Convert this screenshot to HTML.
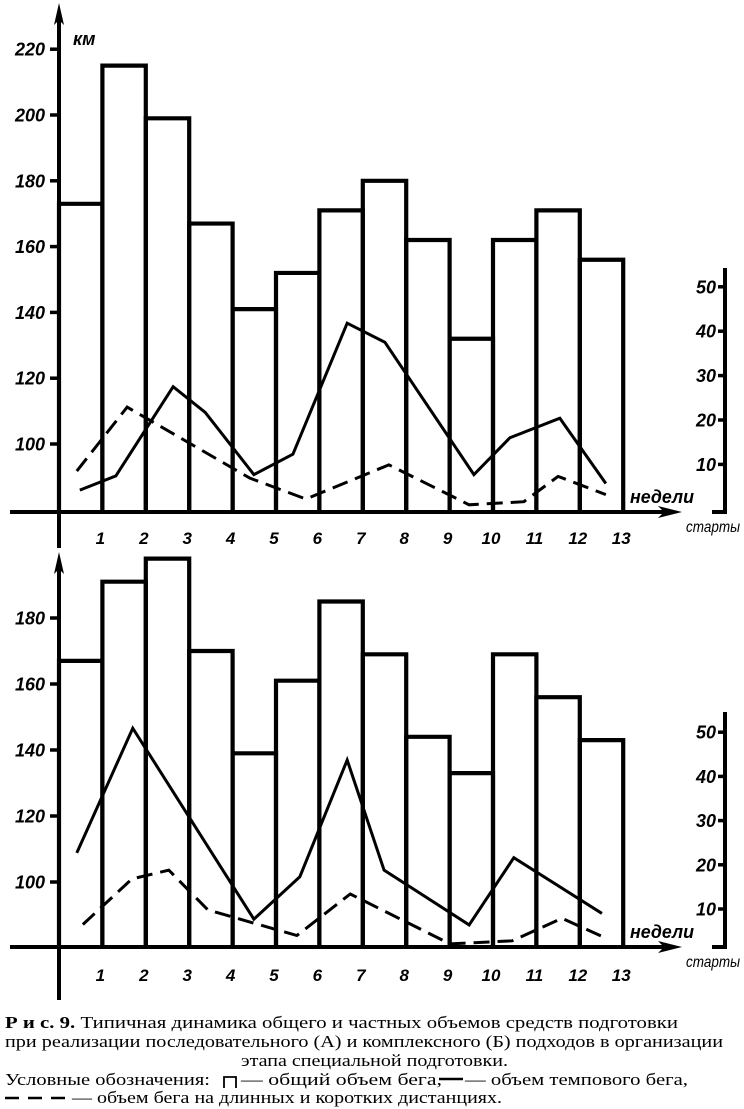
<!DOCTYPE html>
<html><head><meta charset="utf-8"><style>
html,body{margin:0;padding:0;background:#fff}
svg{display:block}
.tk{font-family:"Liberation Sans",sans-serif;font-weight:bold;font-style:italic;font-size:18px}
.wk{font-family:"Liberation Sans",sans-serif;font-weight:bold;font-style:italic;font-size:17px}
.cap{font-family:"Liberation Serif","Noto Serif CJK SC",serif;font-size:17px}
</style></head><body>
<svg id="fig" width="744" height="1109" viewBox="0 0 744 1109" xmlns="http://www.w3.org/2000/svg">
<g id="panelA"></g>
<g id="panelB"></g>
<g>
<text class="cap" x="5" y="1028" textLength="673" lengthAdjust="spacingAndGlyphs"><tspan font-weight="bold">Р и с.   9.</tspan>   Типичная динамика общего и частных объемов средств подготовки</text>
<text class="cap" x="5" y="1047" textLength="718" lengthAdjust="spacingAndGlyphs">при реализации последовательного (А) и комплексного (Б) подходов в организации</text>
<text class="cap" x="241" y="1066" textLength="267" lengthAdjust="spacingAndGlyphs">этапа специальной подготовки.</text>
<text class="cap" x="5" y="1085" textLength="205" lengthAdjust="spacingAndGlyphs">Условные обозначения:</text>
<path d="M224 1088 V1077 H236 V1088" fill="none" stroke="#000" stroke-width="1.8"/>
<text class="cap" x="241" y="1085" textLength="201" lengthAdjust="spacingAndGlyphs">— общий объем бега,</text>
<line x1="439" y1="1079" x2="463" y2="1079" stroke="#000" stroke-width="2.5"/>
<text class="cap" x="465" y="1085" textLength="223" lengthAdjust="spacingAndGlyphs">— объем темпового бега,</text>
<line x1="5" y1="1098" x2="70" y2="1098" stroke="#000" stroke-width="2.5" stroke-dasharray="14 9"/>
<text class="cap" x="72" y="1103" textLength="430" lengthAdjust="spacingAndGlyphs">— объем бега на длинных и коротких дистанциях.</text>
</g>
</svg>
<script>
// ---- data: chart A (sequential) ----
const weeks = [1,2,3,4,5,6,7,8,9,10,11,12,13];
const leftTicksA = [220,200,180,160,140,120,100];
const rightTicks = [50,40,30,20,10];
const barsA = [173,215,199,167,141,152,171,180,162,132,162,171,156];
const solidWeeksA = [0.48,1.31,2.63,3.37,4.49,5.39,6.64,7.51,9.56,10.39,11.54,12.6];
const solidValsA = [4.2,7.4,27.5,21.7,7.7,12.3,41.8,37.5,7.7,16,20.4,5.7];
const dashWeeksA = [0.41,1.57,4.4,5.69,7.6,9.45,10.71,11.5,12.6];
const dashValsA = [8.5,22.9,6.9,2.2,9.9,0.9,1.6,7.3,3.2];
// ---- data: chart B (complex) ----
const leftTicksB = [180,160,140,120,100];
const barsB = [167,191,198,170,139,161,185,169,144,133,169,156,143];
const solidWeeksB = [0.41,1.7,4.49,5.55,6.64,7.49,9.45,10.48,12.51];
const solidValsB = [22.7,50.9,7.7,17.3,43.7,18.8,6.4,21.6,9];
const dashWeeksB = [0.55,1.68,2.53,3.43,5.48,6.71,9.01,10.44,11.59,12.58];
const dashValsB = [6.5,16.8,18.8,9.8,4,13.4,2.1,2.8,7.9,3.5];

const NS = "http://www.w3.org/2000/svg";
function mk(parent, tag, attrs, text){
  const e = document.createElementNS(NS, tag);
  for (const k in attrs) e.setAttribute(k, attrs[k]);
  if (text !== undefined) e.textContent = text;
  parent.appendChild(e);
  return e;
}
const xW = w => 59 + w*43.4;

function drawPanel(g, cfg){
  const yL = v => cfg.y100 - (v-100)*cfg.kL;
  const yR = s => cfg.r0 - s*cfg.kR;
  // bars
  cfg.bars.forEach((v,i)=>{
    const r = mk(g,'path',{d:`M${xW(i)} ${cfg.axisY} V${yL(v)} H${xW(i+1)} V${cfg.axisY}`,fill:'none',stroke:'#000','stroke-width':4.2,'stroke-linejoin':'miter'});
    
    
  });
  // lines
  const sp = cfg.solidW.map((w,i)=>xW(w)+','+yR(cfg.solidV[i])).join(' ');
  const s = mk(g,'polyline',{points:sp,fill:'none',stroke:'#000','stroke-width':3,'stroke-linejoin':'miter'});
  
  
  const dp = cfg.dashW.map((w,i)=>xW(w)+','+yR(cfg.dashV[i])).join(' ');
  const d = mk(g,'polyline',{points:dp,fill:'none',stroke:'#000','stroke-width':3,'stroke-dasharray':'16 8'});
  
  
  // axes
  const ya = mk(g,'line',{x1:59,y1:cfg.yTop+14,x2:59,y2:cfg.yBot,stroke:'#000','stroke-width':4});
  
  
  const yh = mk(g,'path',{d:`M59 ${cfg.yTop} L54 ${cfg.yTop+22} L59 ${cfg.yTop+17} L64 ${cfg.yTop+22} Z`,fill:'#000'});
  
  
  const xa = mk(g,'line',{x1:10,y1:cfg.axisY,x2:668,y2:cfg.axisY,stroke:'#000','stroke-width':4});
  
  
  const xh = mk(g,'path',{d:`M682 ${cfg.axisY} L658 ${cfg.axisY-6} L664 ${cfg.axisY} L658 ${cfg.axisY+6} Z`,fill:'#000'});
  
  
  // left ticks
  cfg.leftTicks.forEach(t=>{
    const y = yL(t);
    const tl = mk(g,'line',{x1:50,y1:y,x2:59,y2:y,stroke:'#000','stroke-width':3.5});
    
    
    const tx = mk(g,'text',{class:'tk',x:45,y:y+6.5,'text-anchor':'end'}, t);
    
    
  });
  // week labels
  weeks.forEach(w=>{
    const tx = mk(g,'text',{class:'wk',x:xW(w)-2,y:cfg.wkY,'text-anchor':'middle'}, w);
    
    
  });
  // right axis
  const ra = mk(g,'path',{d:`M725 ${cfg.rTop} V${cfg.axisY} H712`,fill:'none',stroke:'#000','stroke-width':4});
  
  
  rightTicks.forEach(t=>{
    const y = yR(t);
    const tl = mk(g,'line',{x1:718,y1:y,x2:725,y2:y,stroke:'#000','stroke-width':3.5});
    
    
    const tx = mk(g,'text',{class:'tk',x:716,y:y+6.5,'text-anchor':'end'}, t);
    
    
  });
  const n = mk(g,'text',{class:'tk',x:630,y:cfg.nedY,'font-size':'19px',textLength:64,lengthAdjust:'spacingAndGlyphs'}, 'недели');
  
  
  const st = mk(g,'text',{x:686,y:cfg.stY,'font-family':'"Liberation Sans",sans-serif','font-style':'italic','font-size':'16px',textLength:54,lengthAdjust:'spacingAndGlyphs'}, 'старты');
  
  
}

drawPanel(document.getElementById('panelA'), {
  y100:444, kL:3.29, r0:508.8, kR:4.44, axisY:512, yTop:3, yBot:548, rTop:268,
  wkY:544, nedY:503, stY:532, leftTicks:leftTicksA, bars:barsA,
  solidW:solidWeeksA, solidV:solidValsA, dashW:dashWeeksA, dashV:dashValsA
});
drawPanel(document.getElementById('panelB'), {
  y100:882, kL:3.3, r0:953.2, kR:4.42, axisY:947, yTop:552, yBot:1000, rTop:712,
  wkY:981, nedY:938, stY:967, leftTicks:leftTicksB, bars:barsB,
  solidW:solidWeeksB, solidV:solidValsB, dashW:dashWeeksB, dashV:dashValsB
});
const km = mk(document.getElementById('panelA'),'text',{class:'tk',x:73,y:45,'font-size':'20px'}, 'км');


</script>
</body></html>
